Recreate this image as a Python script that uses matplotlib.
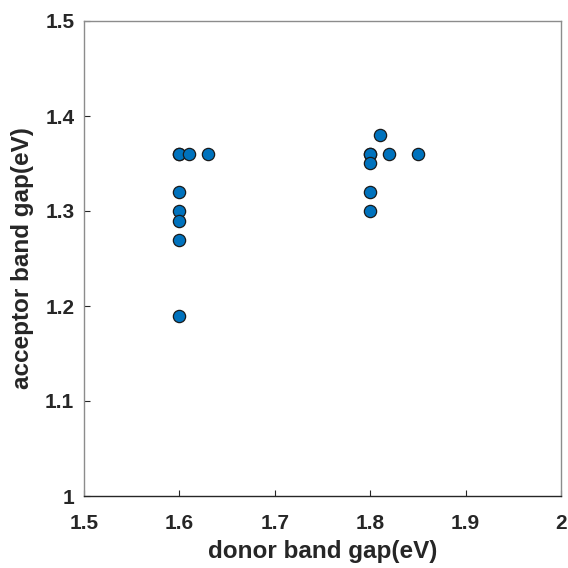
import matplotlib
matplotlib.use("Agg")
import matplotlib.pyplot as plt

donor_gap = [1.60, 1.60, 1.61, 1.63, 1.60, 1.60, 1.60, 1.60, 1.60,
             1.80, 1.80, 1.81, 1.82, 1.85, 1.80, 1.80, 1.80]
acceptor_gap = [1.36, 1.36, 1.36, 1.36, 1.32, 1.30, 1.29, 1.27, 1.19,
                1.36, 1.36, 1.38, 1.36, 1.36, 1.35, 1.32, 1.30]
x_ticks = [1.5, 1.6, 1.7, 1.8, 1.9, 2.0]
x_tick_labels = ["1.5", "1.6", "1.7", "1.8", "1.9", "2"]
y_ticks = [1.0, 1.1, 1.2, 1.3, 1.4, 1.5]
y_tick_labels = ["1", "1.1", "1.2", "1.3", "1.4", "1.5"]

plt.rcParams['font.family'] = ['Liberation Sans', 'DejaVu Sans']
plt.rcParams['font.weight'] = 'bold'

fig = plt.figure(figsize=(5.68, 5.68), dpi=100)
ax = fig.add_axes([84/568, 1 - 496/568, (561-84)/568, (496-21)/568])

ax.scatter(donor_gap, acceptor_gap, s=78, c='#0072BD', edgecolors='#1a1a1a',
           linewidths=0.9, zorder=3)

ax.set_xlim(1.5, 2.0)
ax.set_ylim(1.0, 1.5)
ax.set_xticks(x_ticks)
ax.set_xticklabels(x_tick_labels)
ax.set_yticks(y_ticks)
ax.set_yticklabels(y_tick_labels)
ax.tick_params(direction='in', length=4, width=0.8, labelsize=15,
               colors='#262626')
ax.tick_params(axis='y', pad=7)
ax.tick_params(axis='x', pad=13)
for side in ['left', 'top', 'right']:
    ax.spines[side].set_color('#8c8c8c')
    ax.spines[side].set_linewidth(1.0)
ax.spines['bottom'].set_color('#262626')
ax.spines['bottom'].set_linewidth(1.0)
for lab in ax.get_xticklabels() + ax.get_yticklabels():
    lab.set_fontweight('bold')

ax.set_xlabel('donor band gap(eV)', fontsize=17.5, fontweight='bold',
              color='#262626', labelpad=5)
ax.set_ylabel('acceptor band gap(eV)', fontsize=17.5, fontweight='bold',
              color='#262626', labelpad=8)

fig.savefig('out.png', dpi=100)
